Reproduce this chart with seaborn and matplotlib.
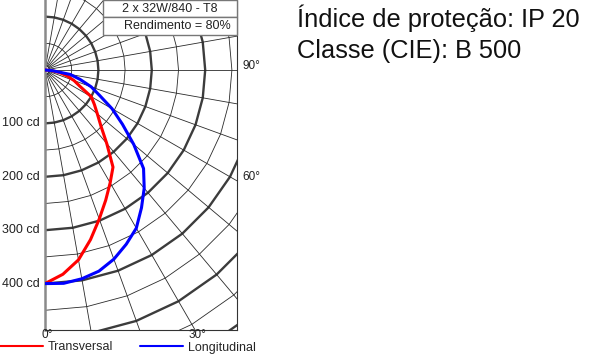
import numpy as np
import pandas as pd
import seaborn as sns
import matplotlib.pyplot as plt
from matplotlib.patches import Rectangle
from matplotlib.lines import Line2D

# photometric data (cd per 1000 lm), angle from nadir
angles = [0, 5, 10, 15, 20, 25, 30, 35, 40, 45, 50, 55, 60, 65, 70, 75, 80, 85, 90]
transversal = [400, 384, 361, 329, 297, 269, 244, 222, 180, 148, 128, 113, 100, 72, 58, 43, 28, 12, 0]
longitudinal = [400, 401, 397, 390, 377, 360, 342, 315, 289, 261, 217, 177, 145, 113, 92, 68, 48, 14, 0]

cd_labels = [100, 200, 300, 400]
deg_bottom = [0, 30]
deg_right = [60, 90]
lamp = "2 x 32W/840 - T8"
rend = "Rendimento = 80%"
info = ["Índice de proteção: IP 20", "Classe (CIE): B 500"]

sns.set_theme(style="white")
plt.rcParams['font.family'] = ['Liberation Sans', 'DejaVu Sans']

W, H = 590, 354
S = 0.534  # px per cd
fig = plt.figure(figsize=(W / 100, H / 100), dpi=100)


def fx(x):
    return x / W


def fy(y):
    return 1 - y / H


ax = fig.add_axes([fx(45), fy(330), 192 / W, 330 / H])
ax.set_xlim(0, 192 / S)
ax.set_ylim(-260 / S, 70 / S)
ax.set_xticks([])
ax.set_yticks([])
ax.spines['top'].set_visible(False)
ax.spines['left'].set_color('#8a8a8a')
ax.spines['left'].set_linewidth(1.8)
for k in ['right', 'bottom']:
    ax.spines[k].set_color('#333333')
    ax.spines[k].set_linewidth(0.8)

# grid: polygonal arcs at 10 deg steps, radials every 10 deg
th = np.radians(np.arange(0, 181, 10))
for r in range(50, 701, 50):
    thick = r % 100 == 0
    ax.plot(r * np.sin(th), -r * np.cos(th),
            color='#3c3c3c' if thick else '#2a2a2a',
            lw=1.7 if thick else 0.6, zorder=1)
r_in = 8
for t in th:
    ax.plot([r_in * np.sin(t), 800 * np.sin(t)], [-r_in * np.cos(t), -800 * np.cos(t)],
            color='#2a2a2a', lw=0.6, zorder=1)
tc = np.radians(np.linspace(0, 180, 40))
ax.plot(r_in * np.sin(tc), -r_in * np.cos(tc), color='#2a2a2a', lw=0.6, zorder=1)

# curves
rows = []
for name, vals in [("Transversal", transversal), ("Longitudinal", longitudinal)]:
    for a, v in zip(angles, vals):
        rows.append({"curva": name, "x": v * np.sin(np.radians(a)), "y": -v * np.cos(np.radians(a))})
df = pd.DataFrame(rows)
pal = {"Transversal": "#ff0000", "Longitudinal": "#0000ff"}
sns.lineplot(data=df, x="x", y="y", hue="curva", palette=pal, sort=False,
             estimator=None, lw=2.2, legend=False, ax=ax, zorder=3)
ax.set_xlabel("")
ax.set_ylabel("")

# labels
for r in cd_labels:
    ax.text(-9.5, -r, f"{r} cd", ha='right', va='center', fontsize=9, color='#222222')
x_max = 192 / S
for d in deg_right:
    yy = -x_max / np.tan(np.radians(d)) if d != 90 else 0
    ax.text(x_max + 10, yy + 7, f"{d}°", ha='left', va='center', fontsize=8.5, color='#222222')
y_min = -260 / S
for d in deg_bottom:
    xx = -y_min * np.tan(np.radians(d))
    ax.text(xx + 4, y_min + 1, f"{d}°", ha='center', va='top', fontsize=8.5, color='#222222')

# info box
for y0, y1, txt in [(0, 17, lamp), (17, 35, rend)]:
    fig.add_artist(Rectangle((fx(103), fy(y1)), (237 - 103) / W, (y1 - y0) / H,
                             facecolor='white', edgecolor='#777777', lw=1.0, zorder=5))
fig.text(fx(170), fy(9), lamp, ha='center', va='center', fontsize=9, color='#222222', zorder=6)
fig.text(fx(177), fy(26), rend, ha='center', va='center', fontsize=9, color='#222222', zorder=6)

# legend
handles = [Line2D([], [], color=pal[k], lw=1.5) for k in pal]
fig.legend(handles, list(pal), loc='center left', bbox_to_anchor=(0, fy(347.5)),
           ncol=2, frameon=False, fontsize=9, handlelength=3.45, handletextpad=0.4,
           columnspacing=2.1, borderpad=0, borderaxespad=0)

fig.text(fx(297), fy(27), info[0], ha='left', va='baseline', fontsize=18.3, color='#111111')
fig.text(fx(297), fy(58), info[1], ha='left', va='baseline', fontsize=18.3, color='#111111')

fig.savefig("out.png", dpi=100)
